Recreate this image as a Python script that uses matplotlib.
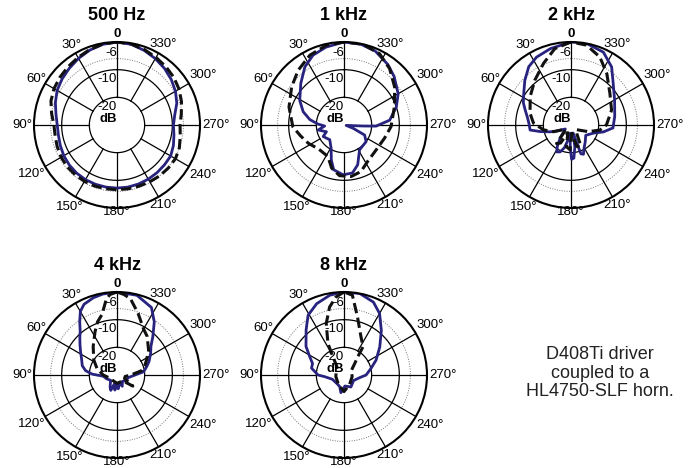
import numpy as np
import matplotlib
matplotlib.use('Agg')
import matplotlib.pyplot as plt

plt.rcParams['font.family'] = ['Liberation Sans', 'DejaVu Sans']

# polar response data, angle in degrees (CCW from 0 at top), level in dB
ang_500_solid = list(range(0, 361, 10))
db_500_solid = [0, -0.4, -1.2, -2.2, -3.2, -4.1, -5.0, -6.3, -7.6, -8.4, -8.5, -8.2, -7.8,
                -7.5, -7.3, -7.2, -7.2, -7.2, -7.2, -7.2, -7.3, -7.4, -7.5, -7.6, -7.6,
                -8.3, -9.1, -9.6, -8.8, -7.0, -5.6, -4.4, -3.3, -2.3, -1.3, -0.4, 0]
ang_500_dash = list(range(0, 361, 10))
db_500_dash = [0, -0.3, -1.0, -1.8, -2.5, -3.1, -3.7, -4.6, -6.0, -7.2, -7.3, -7.0, -6.7,
               -6.5, -6.5, -6.5, -6.5, -6.6, -6.6, -6.6, -6.5, -6.3, -6.0, -5.8, -5.6,
               -6.0, -6.8, -7.2, -6.4, -5.2, -4.1, -3.2, -2.5, -1.8, -1.0, -0.3, 0]

ang_1k_solid = [0, 13, 24, 34, 46, 61, 72, 81, 88, 93, 101, 111, 119, 136, 151, 160, 167,
                179, 190, 199, 212, 233, 244, 250, 260, 267, 268, 276, 289, 300, 314, 324,
                337, 348, 360]
db_1k_solid = [0, -1.1, -2.4, -4.7, -8.3, -11.7, -14.5, -17.5, -20.6, -23, -20.5, -23.2,
               -21.4, -22.6, -20.4, -16.6, -13.4, -12, -12.4, -14.8, -19.4, -20, -21.7,
               -26.4, -29.2, -23.2, -18.4, -13.4, -10, -7.4, -4.8, -3.0, -1.0, -0.2, 0]
ang_1k_dash = [0, 12.5, 26, 40, 54, 72, 92, 104, 117, 134, 153, 164, 175, 188, 200, 213,
               232, 252, 268, 290, 307, 321, 333.5, 347, 360]
db_1k_dash = [0, -0.5, -1.9, -4.2, -6.6, -9.1, -11.5, -13.8, -15.5, -17.4, -17.2, -13.8,
              -11.6, -11.2, -12.1, -14.3, -15.3, -14.6, -13, -10.6, -7.1, -3.8, -1.2, 0, 0]

ang_2k_solid = [0, 15, 27, 36, 46, 56, 65, 72, 80, 88, 97, 102, 108, 113, 125, 140, 147,
                152, 158, 164, 170, 175, 178, 181, 185, 190, 195, 199, 203, 210, 220, 235,
                250, 258, 266, 281, 300, 317, 325, 336, 349, 360]
db_2k_solid = [0, -1.4, -2.5, -4.0, -6.8, -9.4, -11.0, -12.6, -14.0, -14.8, -15.1, -18.6,
               -22, -24.5, -27.5, -24, -21, -19, -19.5, -21.5, -25, -27, -22, -17.6, -18,
               -22, -27, -19, -18.5, -20.5, -22, -23.5, -21.4, -18, -14.8, -13.9, -11.8,
               -7.8, -4.4, -1.2, 0, 0]
ang_2k_dash = [0, 12, 24, 39, 55, 74, 87, 100, 111, 122, 132, 142, 150, 158, 168, 178, 186,
               195, 205, 213, 228, 249, 260, 270, 290, 309, 325, 337, 349, 360]
db_2k_dash = [0, -1.8, -5.6, -9.2, -12, -14.6, -16.4, -19.9, -23.2, -27, -27.5, -21.5,
              -22.5, -27, -22, -21, -27, -22, -21.5, -26, -27.5, -23.3, -19.4, -17.2,
              -14.4, -11.9, -7.4, -3.3, -0.6, 0]

ang_4k_solid = [0, 10, 17, 25, 30, 35, 40, 45, 51, 58, 66, 75, 82, 88, 95, 110, 130, 150,
                158, 165, 172, 178, 185, 195, 205, 220, 240, 255, 268, 277, 286, 293, 303,
                310, 317, 325, 333, 346, 360]
db_4k_solid = [0, -0.3, -0.8, -1.8, -3.5, -6.5, -9.3, -11, -12.8, -14.5, -16, -17, -18.5,
               -21, -25, -26, -27, -25, -24, -27, -24.5, -27, -25, -27, -25.5, -27, -26,
               -26, -24, -20.3, -18.8, -17.4, -15.5, -14, -11, -6.5, -2.6, -0.3, 0]
ang_4k_dash = [0, 5, 8, 14, 20, 27, 40, 57, 72, 90, 110, 150, 180, 225, 235, 245, 260, 270,
               280, 288, 297, 308, 322, 330, 341, 350, 355, 360]
db_4k_dash = [0, -0.8, -2.3, -7.5, -9.5, -12.5, -16.6, -20, -22.4, -25, -27, -27.5, -27,
              -27, -23, -27, -27, -25, -21, -19.5, -18, -15.5, -12.3, -10.8, -6.5, -2, -0.8, 0]

ang_8k_solid = [0, 10, 21, 31, 40, 53, 62, 70, 78, 90, 95, 110, 140, 160, 170, 185, 210,
                240, 262, 270, 284, 295, 308, 320, 330, 338, 349, 360]
db_8k_solid = [0, -0.7, -2.4, -4.8, -8.7, -12.8, -16, -17.9, -18, -20.6, -23, -25.5, -26,
               -25.5, -23.5, -26, -25, -26, -24, -22, -19.9, -17.2, -13.6, -9, -4.3, -1.6, 0, 0]
ang_8k_dash = [0, 6, 12, 19, 27, 31, 40, 70, 100, 150, 170, 180, 190, 210, 260, 300, 318,
               323, 326, 336, 347, 354, 360]
db_8k_dash = [0, -1.7, -4.9, -10.3, -17.2, -22, -26, -27, -27, -26, -25, -24, -25, -26,
              -27, -27, -24, -21.7, -17.7, -14.9, -8.4, -1, 0]

titles = ['500 Hz', '1 kHz', '2 kHz', '4 kHz', '8 kHz']
solid_angles = [ang_500_solid, ang_1k_solid, ang_2k_solid, ang_4k_solid, ang_8k_solid]
solid_levels = [db_500_solid, db_1k_solid, db_2k_solid, db_4k_solid, db_8k_solid]
dash_angles = [ang_500_dash, ang_1k_dash, ang_2k_dash, ang_4k_dash, ang_8k_dash]
dash_levels = [db_500_dash, db_1k_dash, db_2k_dash, db_4k_dash, db_8k_dash]

spoke_angles = list(range(0, 360, 30))
spoke_labels = ['0', '30°', '60°', '90°', '120°', '150°', '180°', '210°', '240°', '270°', '300°', '330°']
ring_labels = ['-6', '-10', '-20']
ring_label_pos = [-4.0, -13.2, -23.6]

W, H = 695, 468
R = 83  # polar radius in pixels
PX = 30 / R  # dB per pixel
centers = [(117, 125), (344, 125), (571, 125), (117, 375), (344, 375)]
# distance of each angle label centre from the plot centre, pixels
label_dist = [91, 92, 93, 95, 98, 95, 87, 92, 99, 99, 99, 93]

fig = plt.figure(figsize=(W / 100, H / 100), dpi=100)
circ = np.linspace(0, 2 * np.pi, 361)

for i, (cx, cy) in enumerate(centers):
    ax = fig.add_axes([(cx - R) / W, (H - cy - R) / H, 2 * R / W, 2 * R / H], projection='polar')
    ax.set_theta_zero_location('N')
    ax.set_theta_direction(1)
    ax.set_ylim(-30, 0)
    ax.set_xticks([])
    ax.set_yticks([])
    ax.grid(False)
    ax.spines['polar'].set_linewidth(1.5)

    # grid rings and spokes
    ax.plot(circ, np.full_like(circ, -6), color='#777777', lw=0.7, ls=(0, (1, 1.5)))
    ax.plot(circ, np.full_like(circ, -10), color='black', lw=0.9)
    ax.plot(circ, np.full_like(circ, -20), color='black', lw=0.9)
    for a in spoke_angles:
        ax.plot([np.radians(a)] * 2, [-20, 0], color='black', lw=0.9)

    ax.plot(np.radians(solid_angles[i]), solid_levels[i], color='#27237f', lw=2.0,
            solid_joinstyle='round')
    ax.plot(np.radians(dash_angles[i]), dash_levels[i], color='#111111', lw=2.2,
            ls=(0, (3.4, 1.5)))

    for a, lab, d in zip(spoke_angles, spoke_labels, label_dist):
        ax.text(np.radians(a), -30 + d * PX, lab, ha='center', va='center', fontsize=9.5,
                fontweight='bold' if lab == '0' else 'normal')
    for lab, r in zip(ring_labels, ring_label_pos):
        ax.text(0, r, lab, ha='right', va='center', fontsize=9.5)
    ax.text(0, -28.0, 'dB', ha='right', va='center', fontsize=9.5, fontweight='bold')

    ax.text(0.5, 1.157, titles[i], transform=ax.transAxes, ha='center', va='center',
            fontsize=13, fontweight='bold')

fig.text(600 / W, 1 - 373 / H, 'D408Ti driver\ncoupled to a\nHL4750-SLF horn.',
         ha='center', va='center', fontsize=13, linespacing=1.08, color='#222222')

fig.savefig('out.png', dpi=100)
